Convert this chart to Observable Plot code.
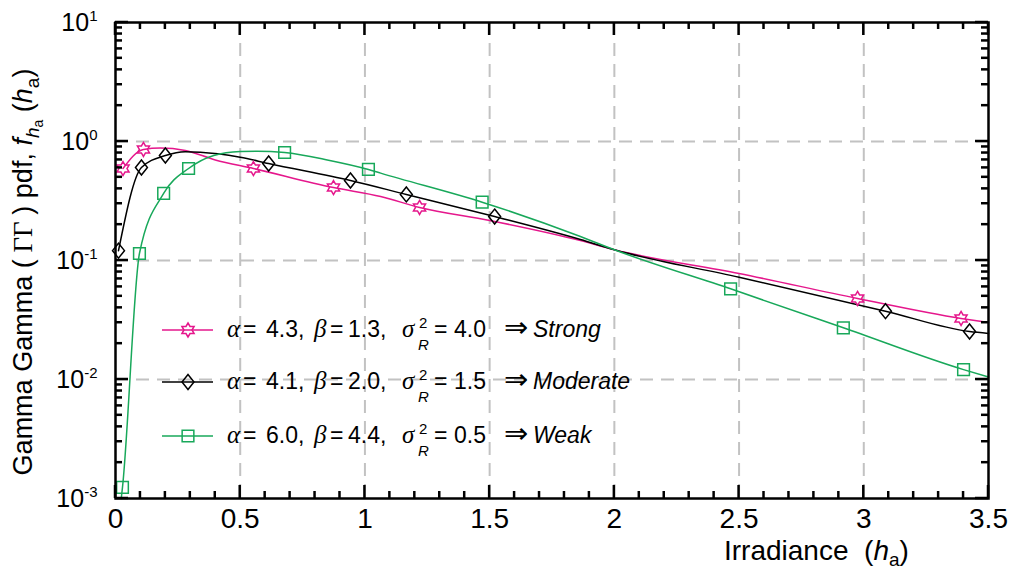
<!DOCTYPE html>
<html><head><meta charset="utf-8">
<script src="https://cdn.jsdelivr.net/npm/d3@7"></script>
<script src="https://cdn.jsdelivr.net/npm/@observablehq/plot@0.6"></script>
<style>body{margin:0;background:#fff;} svg text{white-space:pre;}</style>
</head><body><div id="chart"></div>
<script>
// ---- data ----
const seriesNames = ["Strong", "Moderate", "Weak"];
const seriesColors = ["#e5178c", "#000000", "#18a85a"];
const alphaVals = ["4.3", "4.1", "6.0"];
const betaVals = ["1.3", "2.0", "4.4"];
const sigmaVals = ["4.0", "1.5", "0.5"];

const xTicks = [0, 0.5, 1, 1.5, 2, 2.5, 3, 3.5];
const yTicks = [1e-3, 1e-2, 1e-1, 1, 10];

// curves
const strongLineX = [0.03, 0.112, 0.18, 0.28, 0.4, 0.553, 0.874, 1.063, 1.219, 1.5, 1.864, 2.0, 2.5, 2.975, 3.39, 3.5];
const strongLineY = [0.593, 0.857, 0.88, 0.84, 0.70, 0.593, 0.41, 0.345, 0.279, 0.217, 0.147, 0.123, 0.0778, 0.048, 0.0326, 0.0301];
const moderateLineX = [0.012, 0.104, 0.2, 0.28, 0.41, 0.5, 0.614, 0.942, 1.166, 1.52, 1.864, 2.0, 2.5, 3.087, 3.424, 3.5];
const moderateLineY = [0.121, 0.605, 0.763, 0.822, 0.788, 0.738, 0.653, 0.47, 0.359, 0.234, 0.15, 0.123, 0.0724, 0.0375, 0.0253, 0.0244];
const weakLineX = [0.023, 0.028, 0.096, 0.193, 0.293, 0.394, 0.5, 0.568, 0.678, 0.849, 1.014, 1.063, 1.47, 1.864, 2.0, 2.466, 2.918, 3.4, 3.5];
const weakLineY = [0.001, 0.00124, 0.1145, 0.366, 0.593, 0.763, 0.824, 0.829, 0.808, 0.70, 0.582, 0.542, 0.309, 0.159, 0.123, 0.0578, 0.0272, 0.0121, 0.0105];

// markers
const strongMarkX = [0.03, 0.112, 0.553, 0.874, 1.219, 2.975, 3.39];
const strongMarkY = [0.593, 0.857, 0.593, 0.41, 0.279, 0.048, 0.0326];
const moderateMarkX = [0.012, 0.104, 0.2, 0.614, 0.942, 1.166, 1.52, 3.087, 3.424];
const moderateMarkY = [0.121, 0.605, 0.763, 0.653, 0.47, 0.359, 0.234, 0.0375, 0.0253];
const weakMarkX = [0.028, 0.096, 0.193, 0.293, 0.678, 1.014, 1.47, 2.466, 2.918, 3.4];
const weakMarkY = [0.00124, 0.1145, 0.366, 0.593, 0.808, 0.582, 0.309, 0.0578, 0.0272, 0.0121];

// ---- symbols ----
const hexagram = {draw(ctx, size) {
  const R = Math.sqrt(size / Math.PI), r = R / Math.sqrt(3);
  for (let i = 0; i < 12; i++) {
    const a = -Math.PI / 2 + i * Math.PI / 6, rad = i % 2 ? r : R;
    const px = rad * Math.cos(a), py = rad * Math.sin(a);
    i ? ctx.lineTo(px, py) : ctx.moveTo(px, py);
  }
  ctx.closePath();
}};
const diamond = {draw(ctx, size) {
  const R = Math.sqrt(size / Math.PI);
  ctx.moveTo(0, -1.15 * R); ctx.lineTo(0.92 * R, 0); ctx.lineTo(0, 1.15 * R); ctx.lineTo(-0.92 * R, 0); ctx.closePath();
}};
const square = {draw(ctx, size) {
  const R = Math.sqrt(size / Math.PI) * 0.9;
  ctx.moveTo(-R, -R); ctx.lineTo(R, -R); ctx.lineTo(R, R); ctx.lineTo(-R, R); ctx.closePath();
}};
const symbols = [hexagram, diamond, square];
const symRadius = [7, 6.5, 6.5];

const toRows = (xs, ys) => xs.map((x, i) => ({x, y: ys[i]}));
const lineSets = [toRows(strongLineX, strongLineY), toRows(moderateLineX, moderateLineY), toRows(weakLineX, weakLineY)];
const markSets = [toRows(strongMarkX, strongMarkY), toRows(moderateMarkX, moderateMarkY), toRows(weakMarkX, weakMarkY)];

const gridStyle = {stroke: "#c2c2c2", strokeOpacity: 1, strokeWidth: 2, strokeDasharray: "13,8"};

const chart = Plot.plot({
  width: 1016, height: 571,
  marginLeft: 115, marginRight: 28, marginTop: 22, marginBottom: 73,
  x: {domain: [0, 3.5]},
  y: {type: "log", domain: [1e-3, 10]},
  style: {fontFamily: "'Liberation Sans', Arial, sans-serif", fontSize: "25px", background: "white", color: "black"},
  marks: [
    Plot.gridX(xTicks.slice(1, -1), gridStyle),
    Plot.gridY(yTicks.slice(1, -1), gridStyle),
    ...lineSets.map((d, i) => Plot.line(d, {x: "x", y: "y", stroke: seriesColors[i], strokeWidth: 1.5, curve: "monotone-x"})),
    ...markSets.map((d, i) => Plot.dot(d, {x: "x", y: "y", r: symRadius[i], symbol: symbols[i], stroke: seriesColors[i], fill: "none", strokeWidth: 1.5})),
    Plot.axisX(xTicks, {tickSize: 0, tickPadding: 10, tickFormat: d => String(d), label: null, fontSize: 28}),
    Plot.axisY(yTicks, {tickSize: 0, tickPadding: 18, tickFormat: d => "10^" + Math.round(Math.log10(d)), label: null, fontSize: 25}),
    Plot.frame({stroke: "black", strokeWidth: 2.5})
  ]
});
document.getElementById("chart").appendChild(chart);

const svg = d3.select(chart);
const sx = chart.scale("x"), sy = chart.scale("y");
const X0 = sx.apply(0), X1 = sx.apply(3.5), Y0 = sy.apply(1e-3), Y1 = sy.apply(10);

// superscript exponents on y tick labels
svg.selectAll('g[aria-label="y-axis tick label"] text').each(function () {
  const t = d3.select(this); const [b, e] = t.text().split("^");
  t.text(null);
  t.append("tspan").text(b);
  t.append("tspan").attr("font-size", 15).attr("dy", -10).text(e);
});

// inward ticks on all four sides
const tg = svg.append("g").attr("stroke", "black").attr("stroke-width", 2.5);
const xMinor = d3.range(0, 36).map(i => i / 10);
xMinor.forEach(v => {
  const major = Math.abs(v * 2 - Math.round(v * 2)) < 1e-9;
  const L = major ? 13 : 7, px = sx.apply(v);
  tg.append("line").attr("x1", px).attr("x2", px).attr("y1", Y0).attr("y2", Y0 - L);
  tg.append("line").attr("x1", px).attr("x2", px).attr("y1", Y1).attr("y2", Y1 + L);
});
for (let e = -3; e <= 1; e++) {
  for (let m = 1; m <= 9; m++) {
    const v = m * Math.pow(10, e); if (v > 10) break;
    const L = m === 1 ? 13 : 7, py = sy.apply(v);
    tg.append("line").attr("y1", py).attr("y2", py).attr("x1", X0).attr("x2", X0 + L);
    tg.append("line").attr("y1", py).attr("y2", py).attr("x1", X1).attr("x2", X1 - L);
  }
}

// axis labels
const ff = "'Liberation Sans', Arial, sans-serif";
const xl = svg.append("text").attr("x", 724).attr("y", 560).attr("text-anchor", "start")
  .attr("font-size", 28).attr("font-family", ff).attr("fill", "black");
xl.append("tspan").text("Irradiance  (");
xl.append("tspan").attr("font-style", "italic").text("h");
xl.append("tspan").attr("font-size", 19).attr("dy", 6).text("a");
xl.append("tspan").attr("dy", -6).text(")");

const yl = svg.append("text").attr("transform", "translate(32,272) rotate(-90)").attr("text-anchor", "middle")
  .attr("font-size", 27).attr("font-family", ff).attr("fill", "black");
yl.append("tspan").text("Gamma Gamma (");
yl.append("tspan").attr("font-family", "'Liberation Serif', serif").text(" ΓΓ ");
yl.append("tspan").text(") pdf, ");
yl.append("tspan").attr("font-style", "italic").text("f");
yl.append("tspan").attr("font-style", "italic").attr("font-size", 19).attr("dy", 7).text("h");
yl.append("tspan").attr("font-size", 14).attr("dy", 4).text("a");
yl.append("tspan").attr("dy", -11).text(" (");
yl.append("tspan").attr("font-style", "italic").text("h");
yl.append("tspan").attr("font-size", 19).attr("dy", 7).text("a");
yl.append("tspan").attr("dy", -7).text(")");

// legend
const lineYs = [330, 382, 436];
const tokX = [227, 243, 266, 314, 330, 348, 402, 419, 418, 434, 454, 504, 533];
const lg = svg.append("g").attr("font-family", ff).attr("fill", "black").attr("text-anchor", "start");
seriesNames.forEach((name, i) => {
  const ly = lineYs[i], by = ly + 7;
  lg.append("line").attr("x1", 162).attr("x2", 213).attr("y1", ly).attr("y2", ly)
    .attr("stroke", seriesColors[i]).attr("stroke-width", 1.5);
  lg.append("path").attr("d", d3.symbol().type(symbols[i]).size(Math.PI * symRadius[i] ** 2)())
    .attr("transform", `translate(188,${ly})`).attr("fill", "none").attr("stroke", seriesColors[i]).attr("stroke-width", 1.5);
  const toks = [
    ["α", "greek"], ["=", "n"], [alphaVals[i] + ",", "n"],
    ["β", "greek"], ["=", "n"], [betaVals[i] + ",", "n"],
    ["σ", "greek"], ["2", "sup"], ["R", "sub"], ["=", "n"], [sigmaVals[i], "n"],
    ["⇒", "arrow"], [name, "it"]
  ];
  toks.forEach(([t, k], j) => {
    const el = lg.append("text").attr("x", tokX[j]).attr("y", by).attr("text-anchor", "start").attr("font-size", 23).text(t);
    if (k === "greek") el.attr("font-family", "'Liberation Serif', serif").attr("font-style", "italic").attr("font-size", 25);
    if (k === "sup") el.attr("font-size", 15).attr("y", by - 9);
    if (k === "sub") el.attr("font-size", 15).attr("y", by + 13).attr("font-style", "italic");
    if (k === "arrow") el.attr("font-family", "'DejaVu Sans', sans-serif").attr("font-size", 29).attr("y", by);
    if (k === "it") el.attr("font-style", "italic").attr("font-size", 23);
  });
});
</script>
</body></html>
